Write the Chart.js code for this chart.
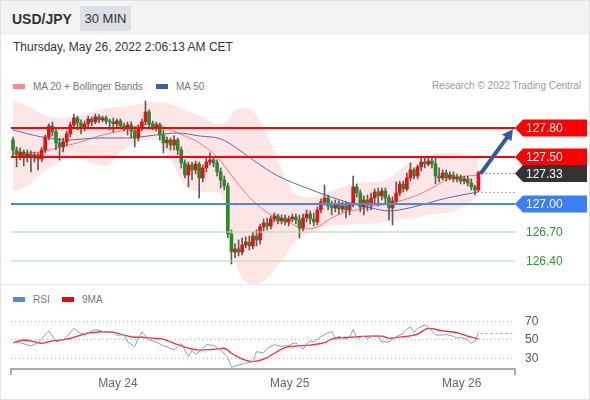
<!DOCTYPE html>
<html lang="en">
<head>
<meta charset="UTF-8">
<title>USD/JPY 30 MIN</title>
<script src="https://cdn.jsdelivr.net/npm/chart.js"></script>
<style>
    body {
        margin: 0;
        width: 590px;
        height: 400px;
        position: relative;
        overflow: hidden;
        background: #fff;
        font-family: "Liberation Sans", Arial, sans-serif;
    }
    #frame { position: absolute; left: 0; top: 0; width: 588px; height: 398px; border: 1px solid #e2e2e2; }
    #head { position: absolute; left: 1px; top: 1px; width: 588px; height: 34px; background: #f3f3f3; }
    #pair { position: absolute; left: 12px; top: 11px; font-size: 14px; font-weight: bold; color: #333; }
    #tf { position: absolute; left: 80px; top: 6px; width: 51px; height: 25px; line-height: 25px; text-align: center; background: #dcdfe3; font-size: 13px; color: #333; }
    #date { position: absolute; left: 13px; top: 40px; font-size: 12px; color: #333; }
    .leg { position: absolute; font-size: 10px; color: #777; white-space: nowrap; }
    .sw { display: inline-block; width: 12px; height: 5px; margin-right: 8px; vertical-align: middle; position: relative; top: -1px; }
    #credit { position: absolute; right: 9px; top: 80px; font-size: 10px; color: #999; }
    #mainBox { position: absolute; left: 0; top: 95px; width: 590px; height: 189px; }
    #sep { position: absolute; left: 1px; top: 284px; width: 588px; height: 1px; background: #e6e6e6; }
    #rsiBox { position: absolute; left: 0; top: 296px; width: 590px; height: 100px; }
</style>
</head>
<body>
<div id="frame"></div>
<div id="head"></div>
<div id="pair">USD/JPY</div>
<div id="tf">30 MIN</div>
<div id="date">Thursday, May 26, 2022 2:06:13 AM CET</div>
<div class="leg" style="left:13px; top:81px;"><span class="sw" style="background:#f88;"></span>MA 20 + Bollinger Bands</div>
<div class="leg" style="left:156px; top:81px;"><span class="sw" style="background:#3c5fa3;"></span>MA 50</div>
<div id="credit">Research © 2022 Trading Central</div>
<div id="mainBox"><canvas id="mainChart"></canvas></div>
<div id="sep"></div>
<div class="leg" style="left:13px; top:294px;"><span class="sw" style="background:#5b83e0;"></span>RSI</div>
<div class="leg" style="left:62px; top:294px;"><span class="sw" style="background:#f00;"></span>9MA</div>
<div id="rsiBox"><canvas id="rsiChart"></canvas></div>

<script>
// 30 min candles, index 0 = first candle on the left
const opens = [127.677,127.571,127.497,127.550,127.508,127.529,127.487,127.519,127.476,127.571,
    127.709,127.825,127.762,127.646,127.603,127.656,127.741,127.836,127.910,127.857,
    127.804,127.847,127.899,127.868,127.921,127.889,127.910,127.878,127.868,127.847,
    127.878,127.825,127.804,127.836,127.772,127.698,127.804,127.868,127.974,127.847,
    127.815,127.836,127.730,127.646,127.677,127.624,127.677,127.571,127.434,127.307,
    127.413,127.360,127.423,127.275,127.381,127.444,127.466,127.434,127.339,127.254,
    127.190,126.683,126.492,126.524,126.492,126.566,126.598,126.556,126.661,126.619,
    126.757,126.799,126.767,126.841,126.873,126.820,126.852,126.810,126.841,126.862,
    126.831,126.746,126.852,126.894,126.841,126.810,126.937,127.021,127.063,126.979,
    126.958,126.989,126.947,126.979,126.937,126.989,127.180,127.116,126.968,127.042,
    126.989,127.063,127.127,127.085,127.138,127.063,126.958,127.032,127.116,127.212,
    127.159,127.275,127.360,127.296,127.392,127.444,127.423,127.455,127.423,127.296,
    127.275,127.328,127.275,127.307,127.265,127.286,127.243,127.265,127.222,127.180,
    127.148];
const highs = [127.709,127.603,127.593,127.571,127.571,127.561,127.550,127.540,127.603,127.730,
    127.847,127.868,127.804,127.698,127.698,127.772,127.868,127.952,127.931,127.889,
    127.878,127.931,127.921,127.952,127.942,127.931,127.931,127.899,127.910,127.899,
    127.899,127.857,127.868,127.868,127.815,127.836,127.899,128.090,127.995,127.878,
    127.868,127.857,127.783,127.709,127.698,127.720,127.698,127.603,127.466,127.444,
    127.444,127.455,127.444,127.413,127.487,127.540,127.497,127.466,127.381,127.296,
    127.222,126.725,126.577,126.619,126.640,126.651,126.661,126.704,126.725,126.788,
    126.841,126.852,126.873,126.905,126.894,126.884,126.884,126.873,126.894,126.894,
    126.884,126.894,126.937,126.926,126.905,126.968,127.053,127.201,127.095,127.032,
    127.042,127.032,127.021,127.021,127.011,127.296,127.212,127.148,127.085,127.095,
    127.116,127.159,127.169,127.169,127.169,127.095,127.074,127.233,127.243,127.243,
    127.328,127.434,127.381,127.413,127.487,127.487,127.487,127.487,127.497,127.381,
    127.360,127.360,127.339,127.339,127.317,127.307,127.296,127.296,127.265,127.201,
    127.349];
const lows = [127.497,127.392,127.466,127.402,127.444,127.339,127.444,127.360,127.444,127.540,
    127.677,127.720,127.571,127.466,127.550,127.614,127.709,127.804,127.783,127.741,
    127.772,127.815,127.825,127.847,127.857,127.868,127.847,127.783,127.762,127.815,
    127.794,127.772,127.730,127.698,127.603,127.667,127.772,127.836,127.815,127.783,
    127.772,127.677,127.540,127.593,127.571,127.571,127.519,127.381,127.275,127.180,
    127.254,127.317,127.063,127.233,127.339,127.413,127.392,127.296,127.169,127.148,
    126.640,126.365,126.429,126.450,126.460,126.534,126.513,126.524,126.556,126.577,
    126.714,126.725,126.735,126.810,126.788,126.788,126.778,126.767,126.810,126.788,
    126.640,126.714,126.810,126.788,126.767,126.778,126.905,126.989,126.937,126.884,
    126.915,126.894,126.915,126.852,126.884,126.968,127.074,126.915,126.884,126.926,
    126.937,127.011,126.979,127.042,127.011,126.831,126.778,127.000,127.085,127.127,
    127.138,127.243,127.265,127.265,127.349,127.381,127.402,127.381,127.212,127.233,
    127.254,127.243,127.254,127.233,127.233,127.212,127.212,127.190,127.148,127.095,
    127.127];
const closes = [127.571,127.519,127.550,127.508,127.529,127.487,127.519,127.476,127.571,127.709,
    127.825,127.762,127.646,127.603,127.656,127.741,127.836,127.910,127.857,127.804,
    127.847,127.899,127.868,127.921,127.889,127.910,127.878,127.868,127.847,127.878,
    127.825,127.804,127.836,127.772,127.698,127.804,127.868,127.974,127.847,127.815,
    127.836,127.730,127.646,127.677,127.624,127.677,127.571,127.434,127.307,127.413,
    127.360,127.423,127.275,127.381,127.444,127.466,127.434,127.339,127.254,127.190,
    126.683,126.492,126.524,126.492,126.566,126.598,126.556,126.661,126.619,126.757,
    126.799,126.767,126.841,126.873,126.820,126.852,126.810,126.841,126.862,126.831,
    126.746,126.852,126.894,126.841,126.810,126.937,127.021,127.063,126.979,126.958,
    126.989,126.947,126.979,126.937,126.989,127.180,127.116,126.968,127.042,126.989,
    127.063,127.127,127.085,127.138,127.063,126.958,127.032,127.116,127.212,127.159,
    127.275,127.360,127.296,127.392,127.444,127.423,127.455,127.423,127.296,127.275,
    127.328,127.275,127.307,127.265,127.286,127.243,127.265,127.222,127.180,127.148,
    127.330];

// indicators (candle index -> value)
const bandIdx   = [0, 4, 8, 13, 18, 21, 26, 30, 35, 40, 44, 48, 53, 57, 60, 62, 65, 68, 71, 74, 77, 80, 84, 88, 92, 96, 100, 104, 108, 112, 116, 120, 124, 127, 130];
const bandUpper = [128.101,128.037,127.952,127.910,127.931,127.963,128.016,128.026,128.058,128.079,128.058,127.995,127.921,127.847,127.889,127.995,128.016,127.942,127.730,127.466,127.201,127.085,127.074,127.127,127.180,127.222,127.233,127.254,127.360,127.466,127.519,127.540,127.540,127.519,127.487];
const bandLower = [127.138,127.190,127.328,127.444,127.487,127.444,127.402,127.550,127.656,127.677,127.466,127.201,127.127,127.127,126.884,126.407,126.175,126.153,126.217,126.354,126.513,126.640,126.704,126.767,126.778,126.788,126.788,126.810,126.831,126.852,126.884,126.905,126.937,127.000,127.085];
const ma20Idx = [0, 8, 13, 18, 24, 30, 36, 40, 44, 48, 52, 57, 62, 66, 70, 74, 78, 81, 85, 89, 93, 97, 101, 105, 109, 113, 117, 121, 125, 130];
const ma20    = [127.540,127.550,127.603,127.646,127.720,127.772,127.836,127.847,127.783,127.720,127.646,127.497,127.254,127.074,126.937,126.852,126.788,126.735,126.757,126.852,126.915,126.947,126.979,127.000,127.042,127.095,127.169,127.254,127.286,127.307];
const ma50Idx = [0, 8, 15, 24, 32, 40, 46, 52, 58, 62, 67, 74, 82, 88, 94, 100, 105, 108, 114, 119, 124, 130];
const ma50    = [127.783,127.709,127.677,127.698,127.698,127.730,127.751,127.720,127.688,127.603,127.466,127.296,127.169,127.085,127.011,126.958,126.926,126.937,126.989,127.042,127.085,127.127];

const rsiIdx = [0, 2, 5, 7, 10, 12, 14, 15, 17, 19, 21, 23, 26, 28, 29, 31, 32, 34, 35, 36, 38, 40, 42, 43, 45, 47, 49, 50, 51, 53, 54, 56, 58, 60, 61, 63, 65, 67, 68, 70, 71, 73, 75, 77, 78, 79, 81, 82, 83, 84, 86, 88, 89, 90, 91, 93, 94, 95, 96, 98, 99, 101, 102, 103, 105, 107, 109, 110, 111, 112, 113, 115, 116, 118, 120, 121, 123, 124, 125, 127, 128, 129, 130];
const rsi    = [47, 47, 43.5, 47, 60, 48, 50, 53.6, 62.7, 56.5, 58, 61.6, 58.5, 59, 55, 56, 48, 42.7, 52, 59, 50, 48, 43.5, 42.7, 39, 46, 31.8, 39, 34, 41, 45, 44, 39, 30.9, 20.2, 22.7, 24.5, 26.4, 37.3, 36, 41, 44.8, 43, 44, 46, 47, 39.8, 46, 49, 48, 53.6, 58, 59, 52, 54, 51, 53, 61.6, 52, 54, 51, 55.4, 54, 47.8, 48, 53.6, 57.3, 61.6, 64.5, 58.4, 62.7, 66.4, 63.8, 55.4, 55.4, 56, 54, 52, 53, 50, 46.4, 49, 58];
const rsiMaIdx = [0, 3, 6, 8, 11, 15, 19, 22, 25, 28, 31, 34, 36, 39, 42, 45, 49, 52, 56, 59, 61, 64, 67, 70, 73, 75, 77, 83, 87, 89, 94, 100, 103, 105, 109, 113, 116, 120, 124, 128, 130];
const rsiMa    = [47, 50, 48, 46.4, 49, 51, 55.4, 58, 59, 58.4, 55.4, 53, 53, 52, 51, 46.4, 41, 39, 39.8, 41, 35.5, 29.3, 26.4, 29, 35.5, 40, 42.7, 44.5, 47, 51, 53, 54.3, 54.3, 52, 53.6, 56.5, 62.7, 60, 58, 53, 51];
const rsiLevels = [30, 50, 70];

const levelValues = [127.80, 127.50, 127.00, 126.70, 126.40];
const levelKinds  = ['resistance', 'resistance', 'pivot', 'support', 'support'];
const lastPrice = 127.33;

const dayTicks  = [29.3, 77.3, 125.3];
const dayLabels = ['May 24', 'May 25', 'May 26'];

const FONT = '"Liberation Sans", Arial, sans-serif';
const UP = '#e41212', DOWN = '#2a8a2a';
const LEVEL_STYLE = {
    resistance: { line: '#ff0000', width: 2, box: '#ff0000' },
    pivot:      { line: '#4a86ee', width: 2, box: '#3d7ef0' },
    support:    { line: '#a9d8a9', width: 1, text: '#2e962e' }
};
const X_MIN = -0.56, X_MAX = 140.2;

const pts = (xs, ys) => xs.map((v, k) => ({ x: v, y: ys[k] }));
const candleIdx = opens.map((_, i) => i);

// price tag with a left pointing tip
function tag(ctx, xTip, yc, color, text) {
    const h = 17, w = 72;
    ctx.fillStyle = color;
    ctx.beginPath();
    ctx.moveTo(xTip, yc);
    ctx.lineTo(xTip + 8, yc - h / 2);
    ctx.lineTo(xTip + w, yc - h / 2);
    ctx.lineTo(xTip + w, yc + h / 2);
    ctx.lineTo(xTip + 8, yc + h / 2);
    ctx.closePath();
    ctx.fill();
    ctx.fillStyle = '#fff';
    ctx.textAlign = 'left';
    ctx.fillText(text, xTip + 11, yc + 1);
}

const levelPlugin = {
    id: 'levels',
    afterDatasetsDraw(chart) {
        const { ctx, chartArea: a, scales: { x, y } } = chart;
        ctx.save();
        ctx.font = '12px ' + FONT;
        ctx.textBaseline = 'middle';

        levelValues.forEach((v, k) => {
            const st = LEVEL_STYLE[levelKinds[k]];
            const py = Math.round(y.getPixelForValue(v));
            ctx.strokeStyle = st.line;
            ctx.lineWidth = st.width;
            ctx.beginPath();
            ctx.moveTo(a.left, py);
            ctx.lineTo(a.right, py);
            ctx.stroke();
            if (st.box) {
                tag(ctx, a.right, py, st.box, v.toFixed(2));
            } else {
                ctx.fillStyle = st.text;
                ctx.textAlign = 'left';
                ctx.fillText(v.toFixed(2), a.right + 11, py + 1);
            }
        });

        // dotted extensions of last price and MA 50
        const lastX = x.getPixelForValue(opens.length - 1) + 3;
        const ly = Math.round(y.getPixelForValue(lastPrice)) + 0.5;
        const my = Math.round(y.getPixelForValue(ma50[ma50.length - 1])) + 0.5;
        ctx.lineWidth = 1;
        ctx.setLineDash([1, 3]);
        ctx.strokeStyle = '#333';
        ctx.beginPath(); ctx.moveTo(lastX, ly); ctx.lineTo(a.right, ly); ctx.stroke();
        ctx.strokeStyle = '#4f6fae';
        ctx.beginPath(); ctx.moveTo(lastX, my); ctx.lineTo(a.right, my); ctx.stroke();
        ctx.setLineDash([]);
        tag(ctx, a.right, ly, '#333', lastPrice.toFixed(2));

        // target arrow
        const x0 = lastX, y0 = ly - 1;
        const x1 = a.right - 2, y1 = y.getPixelForValue(levelValues[0]) + 1;
        const ang = Math.atan2(y1 - y0, x1 - x0);
        const head = 12;
        ctx.strokeStyle = '#2e5d9c';
        ctx.fillStyle = '#2e5d9c';
        ctx.lineWidth = 4;
        ctx.lineCap = 'round';
        ctx.beginPath();
        ctx.moveTo(x0, y0);
        ctx.lineTo(x1 - head * 0.8 * Math.cos(ang), y1 - head * 0.8 * Math.sin(ang));
        ctx.stroke();
        ctx.beginPath();
        ctx.moveTo(x1, y1);
        ctx.lineTo(x1 - head * Math.cos(ang - 0.5), y1 - head * Math.sin(ang - 0.5));
        ctx.lineTo(x1 - head * Math.cos(ang + 0.5), y1 - head * Math.sin(ang + 0.5));
        ctx.closePath();
        ctx.fill();
        ctx.restore();
    }
};

new Chart(document.getElementById('mainChart'), {
    type: 'bar',
    data: {
        datasets: [
            { type: 'line', data: pts(bandIdx, bandUpper), borderWidth: 0, pointRadius: 0, fill: false, cubicInterpolationMode: 'monotone', order: 10 },
            { type: 'line', data: pts(bandIdx, bandLower), borderWidth: 0, pointRadius: 0, fill: '-1', backgroundColor: 'rgba(255,60,60,0.13)', cubicInterpolationMode: 'monotone', order: 9 },
            { type: 'line', data: pts(ma20Idx, ma20), borderColor: 'rgba(255,80,80,0.75)', borderWidth: 1, pointRadius: 0, cubicInterpolationMode: 'monotone', order: 5 },
            { type: 'line', data: pts(ma50Idx, ma50), borderColor: '#4f6fae', borderWidth: 1, pointRadius: 0, cubicInterpolationMode: 'monotone', order: 4 },
            {
                data: candleIdx.map(i => ({ x: i, y: [lows[i], highs[i]] })),
                backgroundColor: '#5c5c5c', barThickness: 1, grouped: false, order: 2
            },
            {
                data: candleIdx.map(i => ({ x: i, y: [opens[i], closes[i]] })),
                backgroundColor: candleIdx.map(i => closes[i] >= opens[i] ? UP : DOWN),
                barThickness: 3, minBarLength: 1, grouped: false, order: 1
            }
        ]
    },
    options: {
        animation: false,
        responsive: true,
        maintainAspectRatio: false,
        layout: { padding: { left: 11, right: 75, top: 0, bottom: 0 } },
        plugins: { legend: { display: false }, tooltip: { enabled: false } },
        scales: {
            x: { type: 'linear', display: false, min: X_MIN, max: X_MAX, offset: false },
            y: { display: false, min: 126.153, max: 128.153 }
        }
    },
    plugins: [levelPlugin]
});

const rsiPlugin = {
    id: 'rsiExtras',
    afterDatasetsDraw(chart) {
        const { ctx, chartArea: a, scales: { x, y } } = chart;
        ctx.save();
        const ry = Math.round(y.getPixelForValue(rsi[rsi.length - 1])) + 0.5;
        ctx.setLineDash([2, 3]);
        ctx.strokeStyle = '#7d9cf0';
        ctx.lineWidth = 1;
        ctx.beginPath();
        ctx.moveTo(x.getPixelForValue(rsiIdx[rsiIdx.length - 1]) + 2, ry);
        ctx.lineTo(a.right, ry);
        ctx.stroke();
        ctx.setLineDash([]);
        ctx.strokeStyle = '#aaa';
        ctx.lineWidth = 2;
        [a.left, a.right].forEach(px => {
            ctx.beginPath();
            ctx.moveTo(px, a.bottom);
            ctx.lineTo(px, a.bottom + 6);
            ctx.stroke();
        });
        ctx.restore();
    }
};

new Chart(document.getElementById('rsiChart'), {
    type: 'line',
    data: {
        datasets: [
            { data: pts(rsiIdx, rsi), borderColor: '#7d9cf0', borderWidth: 1, pointRadius: 0, tension: 0 },
            { data: pts(rsiMaIdx, rsiMa), borderColor: '#ff2a2a', borderWidth: 1.3, pointRadius: 0, cubicInterpolationMode: 'monotone' }
        ]
    },
    options: {
        animation: false,
        responsive: true,
        maintainAspectRatio: false,
        layout: { padding: { left: 11, right: 0, top: 4, bottom: 0 } },
        plugins: { legend: { display: false }, tooltip: { enabled: false } },
        scales: {
            x: {
                type: 'linear', min: X_MIN, max: X_MAX,
                grid: { display: false, drawTicks: false },
                border: { display: true, color: '#aaa', width: 2 },
                ticks: {
                    color: '#666', font: { size: 12, family: FONT }, padding: 7, maxRotation: 0, autoSkip: false,
                    callback: v => dayLabels[dayTicks.indexOf(v)] || ''
                },
                afterBuildTicks: s => { s.ticks = dayTicks.map(v => ({ value: v })); },
                afterFit: s => { s.height = 27; s.paddingLeft = 0; s.paddingRight = 0; }
            },
            y: {
                position: 'right', min: 18.3, max: 93.7,
                grid: { color: '#bbb', drawTicks: false },
                border: { display: false, dash: [1, 3] },
                ticks: { color: '#555', font: { size: 12, family: FONT }, padding: 10 },
                afterBuildTicks: s => { s.ticks = rsiLevels.map(v => ({ value: v })); },
                afterFit: s => { s.width = 75; s.paddingTop = 0; s.paddingBottom = 0; }
            }
        }
    },
    plugins: [rsiPlugin]
});
</script>
</body>
</html>
